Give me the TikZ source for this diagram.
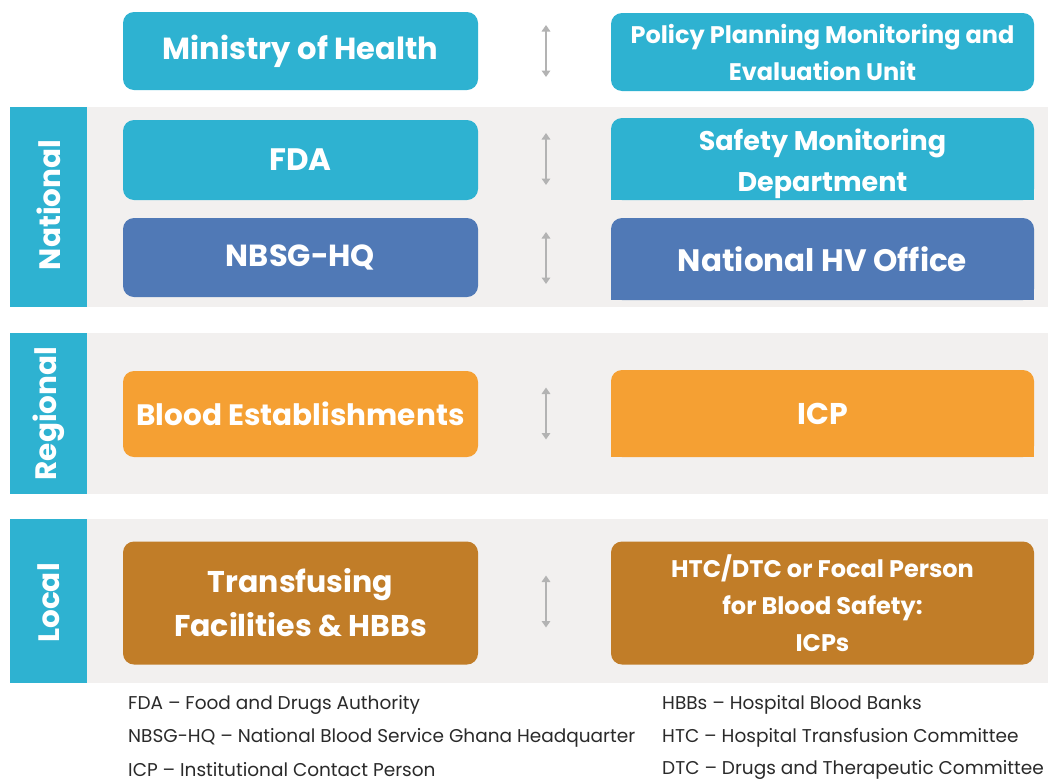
\documentclass[tikz,border=0pt]{standalone}
\usepackage{fontspec}
\setmainfont{Poppins}
\usetikzlibrary{arrows.meta}
\definecolor{cyanbox}{HTML}{2EB2D1}
\definecolor{bluebox}{HTML}{5079B6}
\definecolor{orangebox}{HTML}{F5A033}
\definecolor{brownbox}{HTML}{C17D28}
\definecolor{bandgray}{HTML}{F2F0EF}
\definecolor{arrowgray}{HTML}{B3B3B3}
\definecolor{legendtext}{HTML}{2A2A2A}
\tikzset{
  orgbox/.style={rounded corners=11pt, text=white, align=center, inner sep=0pt,
    font=\bfseries\fontsize{24}{29}\selectfont},
  leftbox/.style={orgbox, minimum width=355pt},
  rightbox/.style={orgbox, minimum width=423pt},
  levelbar/.style={fill=cyanbox},
  band/.style={fill=bandgray},
  levellabel/.style={text=white, rotate=90, font=\bfseries\fontsize{29.5}{32}\selectfont},
  relarrow/.style={draw=arrowgray, line width=2.4pt, {Triangle[width=8.5pt,length=6.5pt]}-{Triangle[width=8.5pt,length=6.5pt]}},
  legend/.style={anchor=west, text=legendtext, inner sep=0pt, font=\fontsize{18.5}{20}\selectfont}
}
\begin{document}
\begin{tikzpicture}[x=1pt,y=-1pt]
\useasboundingbox (0,0) rectangle (1054,782);
\fill[white] (0,0) rectangle (1054,782);
% bands
\fill[band] (87,107) rectangle (1048,307);
\fill[band] (87,333) rectangle (1048,494);
\fill[band] (87,519) rectangle (1048,683);
\fill[levelbar] (10,107) rectangle (87,307);
\fill[levelbar] (10,333) rectangle (87,494);
\fill[levelbar] (10,519) rectangle (87,683);
\node[levellabel] (lnat) at (48.5,205) {National};
\node[levellabel] (lreg) at (48.5,413.5) {Regional};
\node[levellabel] (lloc) at (48.5,603) {Local};
% square bottom corners on some right boxes
\fill[cyanbox] (611,159) rectangle (1034,200);
\fill[bluebox] (611,259) rectangle (1034,300);
\fill[orangebox] (611,413) rectangle (1034,457);
% boxes
\node[leftbox, fill=cyanbox, minimum height=78pt, font=\bfseries\fontsize{30.5}{30}\selectfont] (moh) at (300.5,51) {Ministry of Health};
\node[rightbox, fill=cyanbox, minimum height=78pt, font=\bfseries\fontsize{24}{37}\selectfont] (ppme) at (822.5,52) {Policy Planning Monitoring and\\Evaluation Unit};
\node[leftbox, fill=cyanbox, minimum height=80pt, font=\bfseries\fontsize{31}{30}\selectfont] (fda) at (300.5,160) {FDA};
\node[rightbox, fill=cyanbox, minimum height=82pt, font=\bfseries\fontsize{27}{41}\selectfont] (smd) at (822.5,159) {\rule{0pt}{31pt}Safety Monitoring\\Department};
\node[leftbox, fill=bluebox, minimum height=79pt, font=\bfseries\fontsize{30.5}{30}\selectfont] (nbsg) at (300.5,257.5) {NBSG-HQ};
\node[rightbox, fill=bluebox, minimum height=82pt, font=\bfseries\fontsize{31}{30}\selectfont] (nhv) at (822.5,259) {National HV Office};
\node[leftbox, fill=orangebox, minimum height=86pt, font=\bfseries\fontsize{29.5}{30}\selectfont] (be) at (300.5,414) {Blood Establishments};
\node[rightbox, fill=orangebox, minimum height=87pt, font=\bfseries\fontsize{30}{30}\selectfont] (icp) at (822.5,413.5) {ICP};
\node[leftbox, fill=brownbox, minimum height=123pt, font=\bfseries\fontsize{30}{44}\selectfont] (tf) at (300.5,603) {Transfusing\\Facilities \& HBBs};
\node[rightbox, fill=brownbox, minimum height=123pt, font=\bfseries\fontsize{24}{37}\selectfont] (htc) at (822.5,603) {HTC/DTC or Focal Person\\for Blood Safety:\\ICPs};
% relation arrows
\foreach \n/\y in {a/51,b/159,c/258,d/413.5,e/601.5}{
  \coordinate (\n top) at (546,\y-26);
  \coordinate (\n bot) at (546,\y+26);
  \draw[relarrow] (\n top) -- (\n bot);
}
% legend
\node[legend] (g1) at (128,705) {FDA – Food and Drugs Authority};
\node[legend] (g2) at (128,738) {NBSG-HQ – National Blood Service Ghana Headquarter};
\node[legend] (g3) at (128,770) {ICP – Institutional Contact Person};
\node[legend] (g4) at (662,705) {HBBs – Hospital Blood Banks};
\node[legend] (g5) at (662,738) {HTC – Hospital Transfusion Committee};
\node[legend] (g6) at (662,770) {DTC – Drugs and Therapeutic Committee};
\end{tikzpicture}
\end{document}
